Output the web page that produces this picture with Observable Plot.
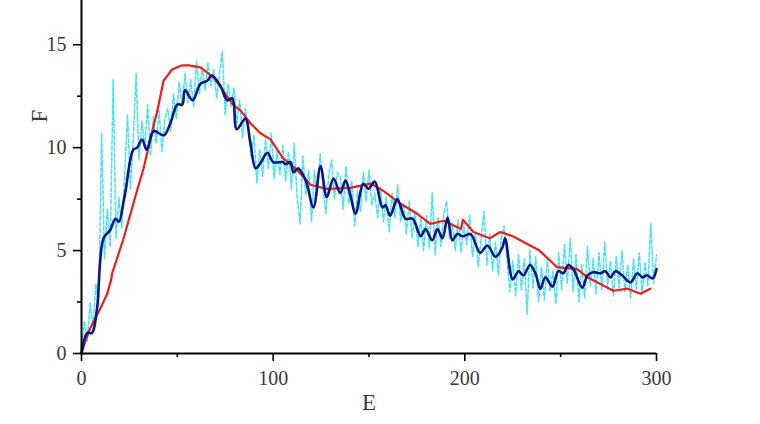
<!DOCTYPE html>
<html>
<head>
<meta charset="utf-8">
<script src="https://cdn.jsdelivr.net/npm/d3@7"></script>
<script src="https://cdn.jsdelivr.net/npm/@observablehq/plot@0.6"></script>
<style>
  html, body { margin: 0; padding: 0; background: #fff; }
  #chart { width: 760px; height: 424px; }
</style>
</head>
<body>
<div id="chart"></div>
<script>
// Raw noisy signal (cyan, dashed), sampled every 1.5 units of E from 0 to 300
const rawStep = 1.5;
const rawF = [
  0.2, 1.6, 0.6, 2.5, 1.2, 3.4, 2.3, 10.7, 4.6, 7.0,
  5.2, 13.3, 5.6, 7.6, 6.1, 8.6, 11.6, 8.0, 10.4, 13.6,
  9.4, 11.3, 10.0, 12.1, 9.6, 11.5, 10.2, 11.8, 9.8, 11.4,
  11.9, 10.8, 12.6, 11.4, 13.2, 12.0, 13.6, 12.2, 13.3, 12.0,
  14.2, 12.6, 13.9, 12.8, 14.1, 13.0, 13.8, 12.4, 13.6, 14.7,
  11.6, 13.1, 12.0, 12.9, 11.2, 12.3, 10.5, 11.9, 10.9, 9.6,
  10.6, 8.3, 9.9, 8.6, 10.4, 9.0, 10.7, 8.5, 9.8, 8.7,
  10.1, 8.4, 9.8, 8.0, 10.2, 7.6, 6.3, 9.6, 7.7, 8.9,
  6.4, 8.9, 7.7, 9.7, 8.0, 6.8, 8.7, 9.4, 7.5, 8.8,
  8.6, 7.0, 9.1, 7.3, 8.4, 6.2, 7.9, 6.9, 8.8, 7.4,
  8.9, 7.2, 7.8, 6.6, 8.1, 6.4, 7.6, 5.9, 7.8, 6.6,
  8.2, 6.4, 7.3, 5.8, 7.4, 5.6, 6.9, 5.2, 6.6, 5.0,
  6.7, 5.1, 7.8, 4.8, 6.6, 5.2, 6.8, 7.4, 5.6, 6.3,
  5.0, 6.5, 4.9, 6.2, 5.3, 6.7, 4.7, 5.9, 4.2, 5.6,
  6.9, 4.3, 5.8, 4.0, 5.4, 3.8, 5.6, 6.2, 4.6, 3.0,
  4.5, 2.8, 4.8, 3.1, 4.6, 1.9, 5.0, 3.2, 4.7, 2.5,
  4.2, 2.6, 4.6, 3.0, 4.0, 2.4, 4.9, 3.1, 5.3, 3.4,
  5.6, 3.0, 4.8, 2.5, 4.3, 2.7, 5.2, 3.3, 4.6, 2.9,
  4.9, 3.1, 5.4, 3.3, 4.5, 2.8, 4.7, 3.2, 5.0, 3.0,
  4.3, 2.7, 4.6, 3.1, 4.9, 2.9, 4.4, 3.3, 6.3, 3.4, 4.8
];

// Smoothed signal (dark blue)
const smoothE = [0,3,5.5,8,11.5,15,17.7,19.5,22,23,27,29,31.6,34,37.7,43,46.4,50,52.6,54,58,62,65.6,68,72.5,76,78.7,81,85.5,88,90.8,93,97,100,105,106.5,109,110.6,113,117,121,124.7,128,131.5,135,137.7,140,143,147,149.7,153,157,158.6,161,164.8,169,172.7,177,179.5,183,185.7,188.3,191,193.5,196,199,203,208,211.8,216,219.6,221,225,228,230.6,234,236.8,239.4,242,245.7,248.8,251.4,254,256.6,261.3,264,267,270.7,273.3,276,278.6,282,286.4,290,292.7,295,298,300];
const smoothF = [0,1.0,1.0,2.1,5.6,6.0,6.55,6.4,7.4,7.9,9.9,10.0,10.4,9.9,10.8,10.6,11.2,12.1,12.1,12.8,12.3,13.1,13.25,13.5,13.0,12.3,12.4,10.9,11.4,10.3,9.0,9.2,9.75,9.3,9.3,9.2,9.3,8.8,9.0,8.4,7.1,9.1,7.6,8.5,7.8,8.4,7.8,6.8,8.25,8.0,8.35,7.1,7.2,6.7,7.5,6.55,6.55,5.7,6.05,5.5,6.05,5.6,6.6,5.5,5.8,5.7,5.8,4.9,5.25,4.7,5.15,5.6,3.6,4.0,3.8,4.3,3.9,3.15,3.7,3.25,4.0,3.9,4.3,4.1,3.2,3.8,3.95,3.9,4.0,3.7,4.0,3.8,3.45,3.9,3.7,3.8,3.65,4.1];

// Fitted curve (red)
const fitE = [0,2,4.7,9.9,13.4,15.5,16,22,28,32.4,36.9,39.6,42.8,47.3,52.5,56,62,69,79,83,88,93.4,98.6,105,112.7,119.5,128,140,151,157.5,166,175,182,189,198,199,204.5,213,218.5,225,239,248,258.7,264,277.5,285,291.6,296.8];
const fitF = [0,0.6,1.26,2.2,2.9,3.6,3.9,5.6,7.6,9.0,10.8,11.8,13.25,13.8,14.0,14.0,13.9,13.4,12.1,11.8,11.2,10.7,10.4,9.5,8.9,8.2,8.0,8.05,8.25,7.9,7.3,6.8,6.3,6.45,6.05,6.5,5.9,5.6,5.9,5.7,5.0,4.2,4.1,3.7,3.05,3.15,2.9,3.15];

// Axis ticks
const xTicksMajor = [0, 100, 200, 300];
const xTicksMinor = [50, 150, 250];
const yTicksMajor = [0, 5, 10, 15];
const yTicksMinor = [2.5, 7.5, 12.5];
const xLabel = "E";
const yLabel = "F";

const raw = rawF.map((f, i) => ({E: i * rawStep, F: f}));
const smooth = smoothE.map((e, i) => ({E: e, F: smoothF[i]}));
const fit = fitE.map((e, i) => ({E: e, F: fitF[i]}));

const font = "'Liberation Serif', 'DejaVu Serif', serif";

const chart = Plot.plot({
  width: 760,
  height: 424,
  marginLeft: 81,
  marginRight: 104,
  marginTop: 0,
  marginBottom: 71,
  style: {fontFamily: font, fontSize: "19px", color: "#333", background: "#fff", overflow: "visible"},
  x: {domain: [0, 300]},
  y: {domain: [0, 17.15]},
  marks: [
    Plot.line(raw, {x: "E", y: "F", stroke: "#45e2f2", strokeWidth: 1.5, strokeDasharray: "4,2"}),
    Plot.line(fit, {x: "E", y: "F", stroke: "#e8201c", strokeWidth: 2.2}),
    Plot.line(smooth, {x: "E", y: "F", stroke: "#0c1585", strokeWidth: 2.6, curve: "catmull-rom"}),
    Plot.axisX({ticks: xTicksMajor, tickSize: 8, tickPadding: 9, tickFormat: d3.format("d"), label: null, stroke: "#000", strokeWidth: 1.6, fill: "#3a3a3a", fontSize: 20}),
    Plot.axisX({ticks: xTicksMinor, tickSize: 4, tickFormat: () => "", label: null, stroke: "#000", strokeWidth: 1.6}),
    Plot.axisY({ticks: yTicksMajor, tickSize: 8, tickPadding: 7, tickFormat: d3.format("d"), label: null, stroke: "#000", strokeWidth: 1.6, fill: "#3a3a3a", fontSize: 20}),
    Plot.axisY({ticks: yTicksMinor, tickSize: 4, tickFormat: () => "", label: null, stroke: "#000", strokeWidth: 1.6}),
    Plot.ruleX([0], {stroke: "#000", strokeWidth: 2}),
    Plot.ruleY([0], {stroke: "#000", strokeWidth: 2}),
    Plot.text([yLabel], {text: d => d, frameAnchor: "top-left", dx: -51, dy: 122, rotate: -90, fontSize: 23, fill: "#3a3a3a"}),
    Plot.text([xLabel], {text: d => d, frameAnchor: "bottom", dy: 56, fontSize: 23, fill: "#3a3a3a"})
  ]
});
document.getElementById("chart").appendChild(chart);
</script>
</body>
</html>
